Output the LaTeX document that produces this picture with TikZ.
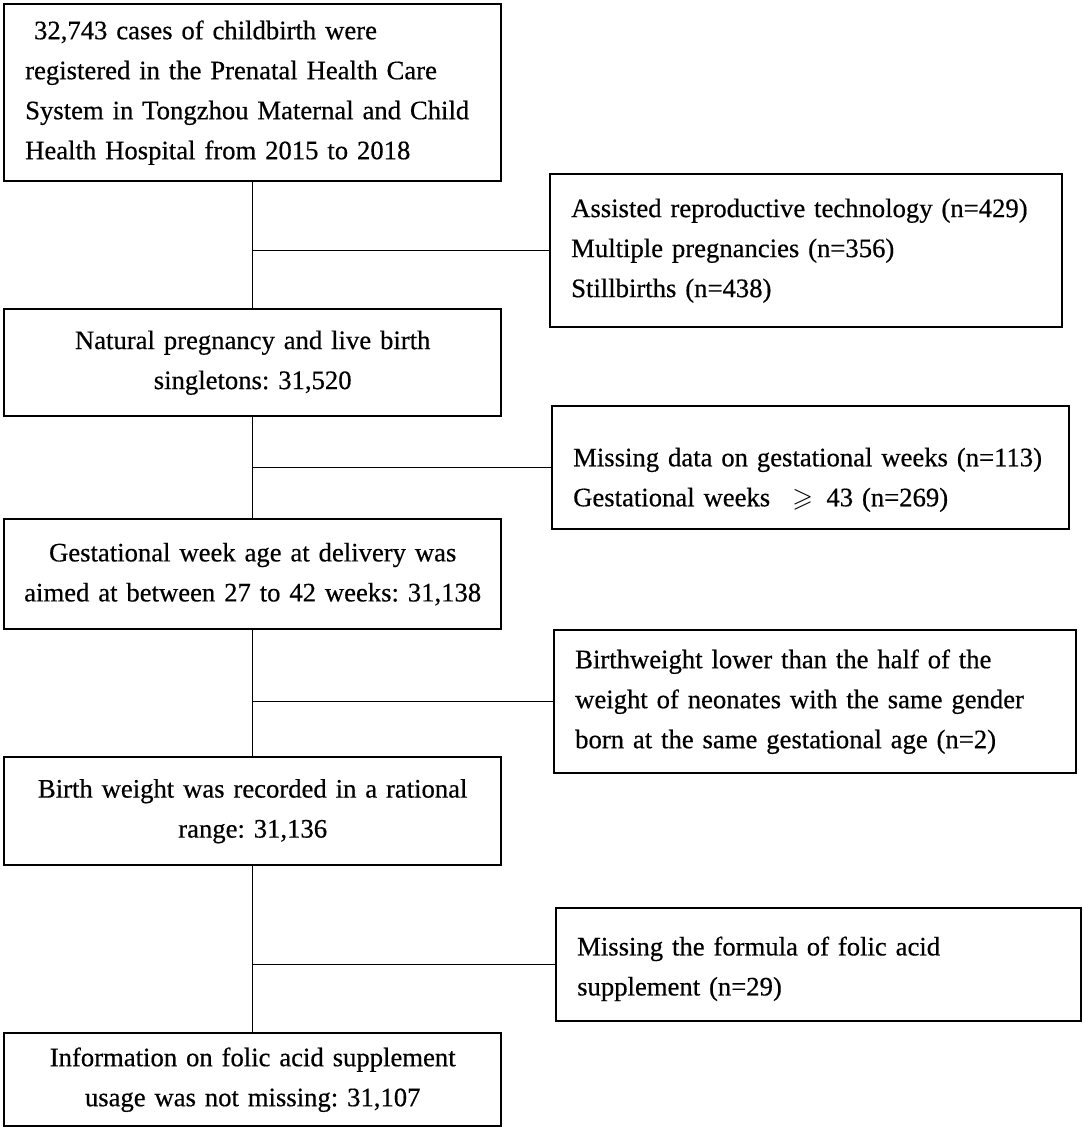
\documentclass[tikz,border=0pt]{standalone}
\usepackage{amssymb}
\usepackage{fontspec}
\setmainfont{Liberation Serif}[FakeBold=0.5]
\newcommand{\px}{0.75pt}

\begin{document}
\frenchspacing
\begin{tikzpicture}[x=\px, y=-\px,
    mainbox/.style={draw, rectangle, anchor=north west, line width=1.8pt, inner ysep=0pt, inner xsep=10*\px, text width=477*\px, align=center, font=\fontsize{20pt}{30pt}\selectfont},
    sidebox/.style={draw, rectangle, anchor=north west, line width=1.8pt, inner ysep=0pt, inner xsep=21*\px, text width=#1*\px-42*\px, align=left, font=\fontsize{20pt}{30pt}\selectfont},
    link/.style={line width=1pt}]
    \useasboundingbox (0,0) rectangle (1084,1127);

    % Main column
    \node[mainbox, minimum height=177*\px, align=left, inner xsep=21*\px, text width=455*\px] (cases) at (3,3)
        {~32,743 cases of childbirth were\\registered in the Prenatal Health Care\\System in Tongzhou Maternal and Child\\Health Hospital from 2015 to 2018};
    \node[mainbox, minimum height=107*\px] (natural) at (3,308)
        {Natural pregnancy and live birth\\singletons: 31,520};
    \node[mainbox, minimum height=110*\px] (gestation) at (3,518)
        {Gestational week age at delivery was\\aimed at between 27 to 42 weeks: 31,138};
    \node[mainbox, minimum height=108*\px] (weight) at (3,756)
        {Birth weight was recorded in a rational\\range: 31,136};
    \node[mainbox, minimum height=93*\px] (folic) at (3,1032)
        {Information on folic acid supplement\\usage was not missing: 31,107};

    % Exclusions
    \node[sidebox=512, minimum height=153*\px] (excl-art) at (549,173)
        {Assisted reproductive technology (n=429)\\Multiple pregnancies (n=356)\\Stillbirths (n=438)};
    \node[sidebox=517, minimum height=123*\px, text depth=16pt] (excl-weeks) at (551,405)
        {Missing data on gestational weeks (n=113)\\Gestational weeks \enspace$\geqslant$\enspace 43 (n=269)};
    \node[sidebox=522, minimum height=143*\px] (excl-bw) at (553,629)
        {Birthweight lower than the half of the\\weight of neonates with the same gender\\born at the same gestational age (n=2)};
    \node[sidebox=525, minimum height=113*\px, text depth=28pt] (excl-folic) at (555,907)
        {Missing the formula of folic acid\\supplement (n=29)};

    % Connectors
    \draw[link] (cases.south) -- (natural.north);
    \draw[link] (natural.south) -- (gestation.north);
    \draw[link] (gestation.south) -- (weight.north);
    \draw[link] (weight.south) -- (folic.north);

    \draw[link] (excl-art.west) -- (excl-art.west -| cases.south);
    \draw[link] (excl-weeks.west) -- (excl-weeks.west -| natural.south);
    \draw[link] (excl-bw.west) -- (excl-bw.west -| gestation.south);
    \draw[link] (excl-folic.west) -- (excl-folic.west -| weight.south);

\end{tikzpicture}
\end{document}
